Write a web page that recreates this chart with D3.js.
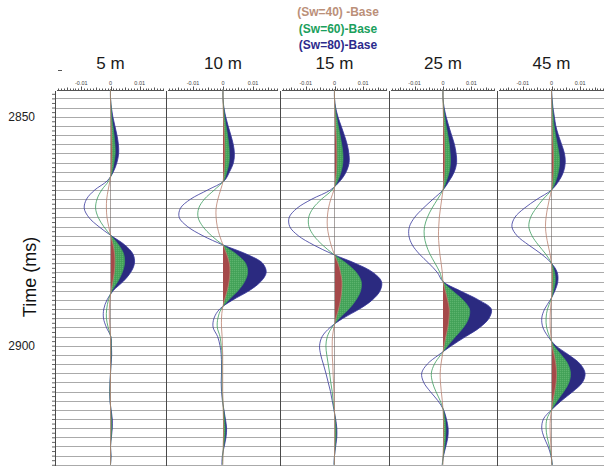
<!DOCTYPE html>
<html>
<head>
<meta charset="utf-8">
<script src="https://cdn.jsdelivr.net/npm/d3@7/dist/d3.min.js"></script>
<style>
  body { margin: 0; background: #fff; }
  svg { display: block; }
  text { font-family: "Liberation Sans", Arial, sans-serif; }
</style>
</head>
<body>
<svg id="chart" width="604" height="466"></svg>
<script>
// ---- data -----------------------------------------------------------------
const offsets = ["5 m", "10 m", "15 m", "25 m", "45 m"];
const seriesNames = ["(Sw=40) -Base", "(Sw=60)-Base", "(Sw=80)-Base"];

// two-way time of each sample (ms)
const times = [2844, 2846, 2848, 2850, 2852, 2854, 2856, 2858, 2860, 2862,
  2864, 2866, 2868, 2870, 2872, 2874, 2876, 2878, 2880, 2882,
  2884, 2886, 2888, 2890, 2892, 2894, 2896, 2898, 2900, 2902,
  2904, 2906, 2908, 2910, 2912, 2914, 2916, 2918, 2920, 2922,
  2924, 2926];

// difference-trace amplitudes, in thousandths
const sw80_5m = [0, 0, 0.3, 0.8, 1.5, 2.2, 2.7, 2.8, 2.2, 1.0, -1.1, -5.4, -8.2, -9.0, -7.4, -4.0, 0.3, 4.9, 7.7, 8.2, 6.9, 4.3, 0.9, -1.2, -2.3, -2.4, -1.4, 0.1, 0.3, 0.4, 0.2, 0, -0.2, -0.3, -0.2, 0.2, 0.6, 0.6, 0.3, 0, 0.2, 0];
const sw60_5m = [0, 0, 0.2, 0.4, 0.8, 1.2, 1.5, 1.6, 1.2, 0.6, -0.6, -3.0, -4.6, -5.1, -4.2, -2.3, 0.2, 2.8, 4.5, 4.8, 4.0, 2.5, 0.5, -0.7, -1.3, -1.4, -0.8, 0.1, 0.2, 0.2, 0.1, 0, -0.1, -0.2, -0.1, 0.1, 0.3, 0.4, 0.2, 0, 0.1, 0];
const sw40_5m = [0, 0, 0.05, 0.1, 0.25, 0.35, 0.45, 0.5, 0.4, 0.2, -0.2, -0.8, -1.3, -1.4, -1.2, -0.6, 0.05, 0.9, 1.4, 1.5, 1.3, 0.8, 0.2, -0.2, -0.4, -0.4, -0.2, 0, 0.05, 0.05, 0, 0, 0, -0.05, 0, 0, 0.1, 0.1, 0.05, 0, 0, 0];

const sw80_10m = [0, 0, 0.3, 0.9, 1.7, 2.6, 3.4, 3.8, 3.5, 2.2, 0.4, -5.1, -10.8, -14.2, -14.6, -11.8, -6.7, 0, 7.8, 13.2, 14.4, 12.6, 8.7, 3.3, -1.1, -3.0, -3.3, -1.8, -1.0, -0.6, -0.5, -0.5, -0.6, -0.5, -0.2, 0.3, 0.8, 1.2, 1.0, 0.4, -0.2, -0.4];
const sw60_10m = [0, 0, 0.2, 0.5, 1.0, 1.5, 1.9, 2.1, 2.0, 1.3, 0.2, -2.9, -6.2, -8.1, -8.3, -6.7, -3.8, 0, 4.4, 7.5, 8.2, 7.2, 5.0, 1.9, -0.6, -1.7, -1.9, -1.0, -0.6, -0.3, -0.3, -0.3, -0.3, -0.3, -0.1, 0.2, 0.5, 0.7, 0.6, 0.2, -0.1, -0.2];
const sw40_10m = [0, 0, 0.05, 0.15, 0.3, 0.4, 0.55, 0.6, 0.55, 0.35, 0.05, -0.8, -1.7, -2.3, -2.3, -1.9, -1.1, 0, 1.2, 2.1, 2.3, 2.0, 1.4, 0.5, -0.2, -0.5, -0.5, -0.3, -0.2, -0.1, -0.1, -0.1, -0.1, -0.1, 0, 0.05, 0.15, 0.2, 0.15, 0.05, 0, -0.05];

const sw80_15m = [0, 0, 0.4, 1.2, 2.3, 3.4, 4.4, 5.0, 5.1, 4.1, 2.0, -1.4, -7.9, -13.1, -15.8, -15.6, -12.6, -7.3, -0.7, 7.2, 13.4, 16.4, 15.9, 13.2, 8.7, 3.0, -1.5, -4.3, -5.2, -4.8, -3.9, -3.0, -2.2, -1.4, -0.8, -0.2, 0.4, 0.8, 0.8, 0.4, 0, -0.2];
const sw60_15m = [0, 0, 0.2, 0.7, 1.3, 1.9, 2.5, 2.9, 2.9, 2.3, 1.1, -0.8, -4.5, -7.5, -9.0, -8.9, -7.2, -4.2, -0.4, 4.1, 7.6, 9.3, 9.1, 7.5, 5.0, 1.7, -0.9, -2.5, -3.0, -2.7, -2.2, -1.7, -1.3, -0.8, -0.5, -0.1, 0.2, 0.5, 0.5, 0.2, 0, -0.1];
const sw40_15m = [0, 0, 0.05, 0.2, 0.35, 0.55, 0.7, 0.8, 0.8, 0.65, 0.3, -0.2, -1.3, -2.1, -2.5, -2.5, -2.0, -1.2, -0.1, 1.2, 2.1, 2.6, 2.5, 2.1, 1.4, 0.5, -0.2, -0.7, -0.8, -0.8, -0.6, -0.5, -0.35, -0.2, -0.1, 0, 0.05, 0.1, 0.1, 0.05, 0, 0];

const sw80_25m = [0, 0, 0.4, 1.1, 2.0, 3.0, 4.0, 4.6, 4.8, 4.0, 2.2, 0, -3.5, -7.0, -10.0, -11.8, -12.0, -10.8, -8.3, -5.0, -2.0, 0, 6.0, 12.5, 17.0, 16.2, 13.0, 8.0, 3.0, -1.5, -5.5, -7.5, -6.8, -4.5, -1.8, 0.2, 1.2, 1.8, 1.7, 1.0, 0.2, -0.3];
const sw60_25m = [0, 0, 0.2, 0.6, 1.1, 1.7, 2.2, 2.5, 2.6, 2.2, 1.2, 0, -1.9, -3.9, -5.5, -6.5, -6.6, -5.9, -4.6, -2.8, -1.1, 0, 3.3, 7.0, 9.3, 9.0, 7.2, 4.4, 1.7, -0.8, -3.0, -4.1, -3.7, -2.5, -1.0, 0.1, 0.7, 1.0, 0.9, 0.6, 0.1, -0.2];
const sw40_25m = [0, 0, 0.05, 0.15, 0.25, 0.4, 0.5, 0.6, 0.6, 0.5, 0.3, 0, -0.45, -0.9, -1.3, -1.5, -1.6, -1.4, -1.1, -0.65, -0.25, 0, 0.8, 1.6, 2.2, 2.1, 1.7, 1.0, 0.4, -0.2, -0.7, -1.0, -0.9, -0.6, -0.25, 0, 0.15, 0.25, 0.2, 0.15, 0, 0];

const sw80_45m = [0, 0.2, 0.5, 1.0, 1.5, 2.4, 3.5, 4.5, 4.8, 4.2, 2.6, 0, -5.0, -9.5, -12.8, -13.8, -12.0, -8.0, -3.5, 0, 2.0, 2.2, 1.2, -0.4, -2.4, -3.4, -3.0, -1.2, 1.5, 6.0, 10.0, 11.7, 10.8, 7.5, 3.5, 0, -2.8, -3.4, -2.6, -1.2, -0.2, 0.3];
const sw60_45m = [0, 0.1, 0.3, 0.6, 0.9, 1.4, 2.0, 2.6, 2.8, 2.4, 1.5, 0, -2.9, -5.4, -7.3, -7.9, -6.8, -4.6, -2.0, 0, 1.1, 1.3, 0.7, -0.2, -1.4, -1.9, -1.7, -0.7, 0.8, 3.4, 5.7, 6.6, 6.1, 4.3, 2.0, 0, -1.6, -1.9, -1.5, -0.7, -0.1, 0.2];
const sw40_45m = [0, 0.03, 0.08, 0.15, 0.2, 0.35, 0.5, 0.65, 0.7, 0.6, 0.4, 0, -0.75, -1.4, -1.9, -2.1, -1.8, -1.2, -0.5, 0, 0.3, 0.35, 0.2, -0.05, -0.35, -0.5, -0.45, -0.2, 0.2, 0.9, 1.5, 1.75, 1.6, 1.1, 0.5, 0, -0.4, -0.5, -0.4, -0.2, 0, 0.05];

const timeTickLabels = [2850, 2900];
const ampTickValues = [-0.01, 0, 0.01];
const ampTickLabels = ["-0.01", "0", "0.01"];

// ---- layout ---------------------------------------------------------------
const AMP_UNIT = 1e-3;
const panelEdges = [55, 166, 280, 389, 497, 606];
const plotTop = 90, plotBottom = 466;
const ampHalfRange = 0.019;

const traces = [
  [sw40_5m, sw60_5m, sw80_5m],
  [sw40_10m, sw60_10m, sw80_10m],
  [sw40_15m, sw60_15m, sw80_15m],
  [sw40_25m, sw60_25m, sw80_25m],
  [sw40_45m, sw60_45m, sw80_45m]
];

const fillColors = ["#a5494a", "url(#greenHatch)", "#2b2a80"];
const lineColors = ["#b9806e", "#3a9a5c", "#35359a"];
const legendColors = ["#bb9079", "#1aa05c", "#2c2a8c"];

const svg = d3.select("#chart");
const defs = svg.append("defs");

// lightly textured green for the Sw=60 fill
const pat = defs.append("pattern")
  .attr("id", "greenHatch").attr("patternUnits", "userSpaceOnUse")
  .attr("width", 2).attr("height", 2);
pat.append("rect").attr("width", 2).attr("height", 2).attr("fill", "#47a55c");
pat.append("rect").attr("width", 1).attr("height", 1).attr("fill", "#5cb36d");
pat.append("rect").attr("x", 1).attr("y", 1).attr("width", 1).attr("height", 1).attr("fill", "#41a056");

const y = d3.scaleLinear().domain([2850, 2900]).range([116.7, 345.7]);
const tMin = y.invert(plotTop), tMax = y.invert(plotBottom);

// horizontal grid every 2 ms
const gridTimes = d3.range(Math.ceil(tMin / 2) * 2, tMax, 2).filter(t => y(t) > plotTop + 3);
svg.append("g").selectAll("line").data(gridTimes).join("line")
  .attr("x1", panelEdges[0]).attr("x2", 604)
  .attr("y1", d => Math.round(y(d)) + 0.5).attr("y2", d => Math.round(y(d)) + 0.5)
  .attr("stroke", "#aaaaaa").attr("stroke-width", 1);

// left time axis: minor ticks every ms, labels at 2850 and 2900
const yAxis = d3.axisLeft(y)
  .tickValues(d3.range(Math.ceil(tMin), tMax, 1))
  .tickSize(3).tickFormat("");
const gy = svg.append("g").attr("transform", `translate(${panelEdges[0]},0)`).call(yAxis);
gy.select(".domain").remove();
gy.selectAll(".tick line").attr("stroke", "#666");

svg.append("g").selectAll("text").data(timeTickLabels).join("text")
  .attr("x", 35).attr("y", d => y(d)).attr("dy", "0.35em")
  .attr("text-anchor", "end").attr("font-size", 12).attr("fill", "#222")
  .text(d => d);

svg.append("text")
  .attr("transform", `translate(36,277) rotate(-90)`)
  .attr("text-anchor", "middle").attr("font-size", 18).attr("fill", "#111")
  .text("Time (ms)");

// panel separators
svg.append("g").selectAll("line").data(panelEdges.slice(0, 5)).join("line")
  .attr("x1", d => d + 0.5).attr("x2", d => d + 0.5)
  .attr("y1", plotTop + 1).attr("y2", plotBottom)
  .attr("stroke", "#4a4a4a").attr("stroke-width", 1);

// small mark at the top-left corner
svg.append("line").attr("x1", 58).attr("x2", 62).attr("y1", 70.5).attr("y2", 70.5)
  .attr("stroke", "#555").attr("stroke-width", 1);

offsets.forEach((name, i) => {
  const left = panelEdges[i], right = panelEdges[i + 1];
  const x = d3.scaleLinear().domain([-ampHalfRange, ampHalfRange]).range([left, right]);
  const x0 = x(0);
  const g = svg.append("g");

  // top amplitude axis
  const minor = d3.range(-18, 19).map(k => k * 0.001).filter(v => x(v) > left + 2 && x(v) < right - 2);
  const ax = g.append("g").attr("transform", `translate(0,${plotTop})`);
  ax.append("line").attr("x1", left + 2).attr("x2", right - 2)
    .attr("y1", 0.5).attr("y2", 0.5).attr("stroke", "#555");
  ax.selectAll("line.tk").data(minor).join("line").attr("class", "tk")
    .attr("x1", d => Math.round(x(d)) + 0.5).attr("x2", d => Math.round(x(d)) + 0.5)
    .attr("y1", 0.5)
    .attr("y2", d => {
      const k = Math.round(d * 1000);
      return k % 10 === 0 ? -3.5 : (k % 5 === 0 ? -2.5 : -1.5);
    })
    .attr("stroke", "#555").attr("stroke-width", 1);
  ax.selectAll("text").data(ampTickValues).join("text")
    .attr("x", d => x(d)).attr("y", -5.5)
    .attr("text-anchor", "middle").attr("font-size", 5.5).attr("fill", "#444")
    .text((d, k) => ampTickLabels[k]);

  // offset title
  g.append("text").attr("x", (left + right) / 2).attr("y", 69)
    .attr("text-anchor", "middle").attr("font-size", 17).attr("fill", "#1a1a1a")
    .text(name);

  // positive side clip for variable-area fills
  const clipId = `pos${i}`;
  defs.append("clipPath").attr("id", clipId).append("rect")
    .attr("x", x0).attr("y", plotTop).attr("width", right - x0).attr("height", plotBottom - plotTop);

  const pts = arr => arr.map((a, k) => ({ t: times[k], a: a * AMP_UNIT }));
  const area = d3.area()
    .y(d => y(d.t)).x0(x0).x1(d => x(d.a))
    .curve(d3.curveCatmullRom.alpha(0.5));
  const line = d3.line()
    .x(d => x(d.a)).y(d => y(d.t))
    .curve(d3.curveCatmullRom.alpha(0.5));

  const set = traces[i];
  const fills = g.append("g").attr("clip-path", `url(#${clipId})`);
  [2, 1, 0].forEach(s => {
    fills.append("path").datum(pts(set[s])).attr("d", area)
      .attr("fill", fillColors[s]).attr("stroke", "none");
  });
  [2, 1, 0].forEach(s => {
    g.append("path").datum(pts(set[s])).attr("d", line)
      .attr("fill", "none").attr("stroke", lineColors[s]).attr("stroke-width", 0.8);
  });
});

// legend
svg.append("g").selectAll("text").data(seriesNames).join("text")
  .attr("x", 338).attr("y", (d, k) => 16 + k * 16.7)
  .attr("text-anchor", "middle").attr("font-size", 12).attr("font-weight", "bold")
  .attr("fill", (d, k) => legendColors[k])
  .text(d => d);
</script>
</body>
</html>
